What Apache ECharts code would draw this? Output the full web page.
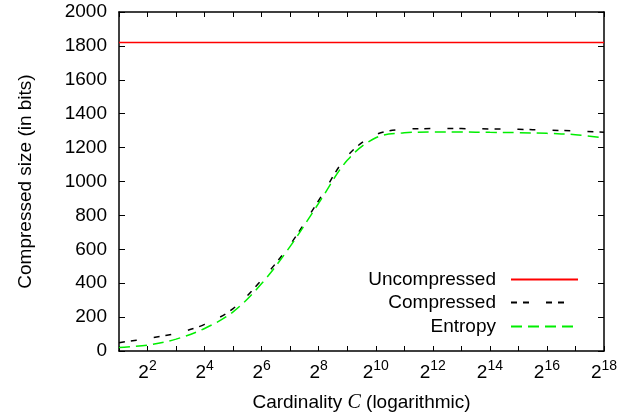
<!DOCTYPE html>
<html>
<head>
<meta charset="utf-8">
<script src="https://cdn.jsdelivr.net/npm/echarts@6/dist/echarts.min.js"></script>
<style>html,body{margin:0;padding:0;background:#fff}#c{width:629px;height:418px}</style>
</head>
<body>
<div id="c"></div>
<script>
// log2 of cardinality C
var exponents = [1,2,3,4,5,6,7,8,9,10,11,12,13,14,15,16,17,18];
var uncompressed = [1820,1820,1820,1820,1820,1820,1820,1820,1820,1820,1820,1820,1820,1820,1820,1820,1820,1820];
var compressed = [49,74,104,157,250,420,628,888,1150,1276,1308,1312,1312,1310,1308,1303,1298,1290];
var entropy = [20,35,70,133,231,398,617,872,1125,1258,1287,1292,1292,1290,1288,1284,1276,1257];
var yTicks = [0,200,400,600,800,1000,1200,1400,1600,1800,2000];

function pairs(ys){ return exponents.map(function(e,i){ return [e, ys[i]]; }); }

var FONT = 'Liberation Sans';
var FS = 19;
var chart = echarts.init(document.getElementById('c'), null, {renderer:'canvas'});
var axisLineStyle = {color:'#000', width:1.5};
var xBase = {
  type:'value', min:1, max:18, interval:1,
  axisLine:{show:true, lineStyle:axisLineStyle, onZero:false},
  axisTick:{show:true, inside:true, length:5, lineStyle:{color:'#000', width:1}},
  splitLine:{show:false}
};
var yBase = {
  type:'value', min:yTicks[0], max:yTicks[yTicks.length-1], interval:200,
  axisLine:{show:true, lineStyle:axisLineStyle, onZero:false},
  axisTick:{show:true, inside:true, length:6, lineStyle:{color:'#000', width:1}},
  splitLine:{show:false}
};
function legendFor(name, top){
  return {
    data:[name], orient:'vertical', align:'right', right:50, top:top, padding:0,
    itemWidth:67, itemHeight:14, selectedMode:false,
    itemStyle:{opacity:0},
    textStyle:{fontFamily:FONT, fontSize:FS, color:'#000', padding:[0,10,0,0]}
  };
}
chart.setOption({
  animation:false,
  backgroundColor:'#fff',
  grid:{left:119, right:25, top:12, bottom:66},
  xAxis:[
    Object.assign({}, xBase, {
      position:'bottom',
      name:'{a|Cardinality }{c|C}{a| (logarithmic)}',
      nameLocation:'middle', nameGap:42,
      nameTextStyle:{rich:{
        a:{fontFamily:FONT, fontSize:FS, color:'#000'},
        c:{fontFamily:'Liberation Serif', fontStyle:'italic', fontSize:FS+1, color:'#000'}
      }},
      axisLabel:{
        show:true, margin:8, showMinLabel:true, showMaxLabel:true,
        formatter:function(v){ return (v % 2 === 0) ? '{b|2}{s|' + v + '}' : ''; },
        rich:{
          b:{fontFamily:FONT, fontSize:FS, color:'#000'},
          s:{fontFamily:FONT, fontSize:14, color:'#000', padding:[0,0,14,0]}
        }
      }
    }),
    Object.assign({}, xBase, {position:'top', axisLabel:{show:false}})
  ],
  yAxis:[
    Object.assign({}, yBase, {
      position:'left',
      name:'Compressed size (in bits)', nameLocation:'middle', nameGap:84, nameRotate:90,
      nameTextStyle:{fontFamily:FONT, fontSize:FS, color:'#000'},
      axisLabel:{show:true, margin:12, fontFamily:FONT, fontSize:FS, color:'#000',
        formatter:function(v){ return String(v); }}
    }),
    Object.assign({}, yBase, {position:'right', axisLabel:{show:false}})
  ],
  legend:[legendFor('Uncompressed',270), legendFor('Compressed',293), legendFor('Entropy',317)],
  series:[
    {name:'Uncompressed', type:'line', data:pairs(uncompressed), showSymbol:false, symbol:'none',
     lineStyle:{color:'#ff0000', width:1.5}, itemStyle:{color:'#ff0000'}},
    {name:'Compressed', type:'line', data:pairs(compressed), showSymbol:false, symbol:'none', smooth:0.35,
     lineStyle:{color:'#000', width:1.5, type:[6,6,6,17]}, itemStyle:{color:'#000'}},
    {name:'Entropy', type:'line', data:pairs(entropy), showSymbol:false, symbol:'none', smooth:0.35,
     lineStyle:{color:'#00ee00', width:1.5, type:[11,6]}, itemStyle:{color:'#00ee00'}}
  ]
});
</script>
</body>
</html>
